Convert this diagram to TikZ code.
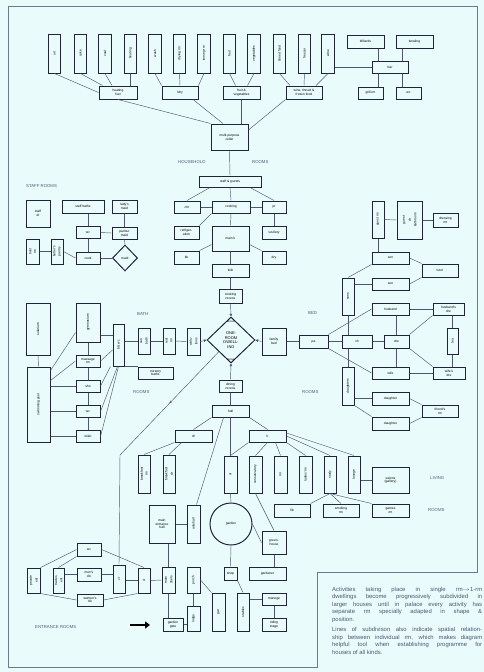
\documentclass[tikz,border=0pt]{standalone}
\usepackage{fontspec}
\setmainfont{Liberation Sans}
\usepackage{graphicx}
\definecolor{paper}{RGB}{234,251,252}
\definecolor{ink}{RGB}{34,36,58}
\definecolor{wire}{RGB}{78,86,112}
\usetikzlibrary{arrows.meta,shapes.geometric,decorations.markings}

\begin{document}
\begin{tikzpicture}[x=1pt, y=-1pt,
  rm/.style={draw=ink, line width=1pt, fill=paper, inner sep=0.3pt, align=center,
    font=\fontsize{3.3}{3.7}\selectfont},
  tall/.style={rm, minimum width=12.5pt, minimum height=39pt},
  link/.style={draw=wire, line width=0.45pt},
  tip/.style={-{Triangle[length=2.6pt,width=2.6pt]}},
  zone/.style={anchor=west, inner sep=0, text=wire, font=\fontsize{4.3}{5}\selectfont}]

\fill[paper] (0,0) rectangle (484,672);
\useasboundingbox (0,0) rectangle (484,672);
\draw[wire!80, line width=0.6pt] (8,6) -- (477,6) -- (477,572) -- (317,572) -- (317,667) -- (8,667) -- cycle;

% household rooms
\node[tall] (oil)   at (54.5,53.5)  {\rotatebox{90}{oil}};
\node[tall] (coke)  at (80.5,53.5)  {\rotatebox{90}{coke}};
\node[tall] (coal)  at (105,53.5)   {\rotatebox{90}{coal}};
\node[tall] (heat)  at (130.5,53.5) {\rotatebox{90}{heating}};
\node[tall] (wash)  at (155,53.5)   {\rotatebox{90}{wash}};
\node[tall] (dryrm) at (179.5,53.5) {\rotatebox{90}{drying rm}};
\node[tall] (iron)  at (204,53.5)   {\rotatebox{90}{ironing rm}};
\node[tall] (fruit) at (229.5,53.5) {\rotatebox{90}{fruit}};
\node[tall] (veg)   at (254,53.5)   {\rotatebox{90}{vegetables}};
\node[tall] (tins)  at (279.5,53.5) {\rotatebox{90}{tinned food}};
\node[tall] (frz)   at (304.5,53.5) {\rotatebox{90}{freezer}};
\node[tall] (wine)  at (328,53.5)   {\rotatebox{90}{wine}};

\node[rm, minimum width=38pt, minimum height=13pt] (fuel)  at (118,92.5)   {heating\\fuel};
\node[rm, minimum width=36pt, minimum height=13pt] (ldry)  at (180,92.5)   {ldry};
\node[rm, minimum width=37pt, minimum height=13pt] (fandv) at (241.5,92.5) {fruit \&\\vegetables};
\node[rm, minimum width=36pt, minimum height=13pt] (wtf)   at (304,92.5)   {wine, tinned \&\\frozen food};
\node[rm, minimum width=37pt, minimum height=26pt] (cellar) at (229.5,137) {multi-purpose\\cellar};

\node[rm, minimum width=37pt, minimum height=13pt] (bill)  at (365.5,41.5) {billiards};
\node[rm, minimum width=37pt, minimum height=13pt] (bowl)  at (414.5,41.5) {bowling};
\node[rm, minimum width=36pt, minimum height=12pt] (bar)   at (390,67)     {bar};
\node[rm, minimum width=25pt, minimum height=12pt] (grill) at (370.5,93)   {grill rm};
\node[rm, minimum width=25pt, minimum height=12pt] (barwc) at (408.5,93)   {wc};

\node[zone] (hh)  at (178,162) {HOUSEHOLD};
\node[zone] (hhr) at (252,162) {ROOMS};

% staff rooms
\node[zone] (staffz) at (26,186) {STAFF ROOMS};
\node[rm, minimum width=24pt, minimum height=27pt] (stdr)  at (38,213.5)  {staff\\dr};
\node[rm, minimum width=42pt, minimum height=13pt] (sbath) at (83,206.5)  {staff baths};
\node[rm, minimum width=25pt, minimum height=13pt] (lmaid) at (124.5,206.5) {lady's\\maid};
\node[rm, minimum width=24pt, minimum height=12pt] (swc)   at (88,232.5)  {wc};
\node[rm, minimum width=25pt, minimum height=12pt] (pmaid) at (124.5,233) {parlour\\maid};
\node[rm, minimum width=13pt, minimum height=25pt] (boot)  at (32.5,251.5) {\rotatebox{90}{\shortstack{boot\\rm}}};
\node[rm, minimum width=12pt, minimum height=25pt] (butl)  at (57,251.5)  {\rotatebox{90}{\shortstack{butler's\\pantry}}};
\node[rm, minimum width=24pt, minimum height=12pt] (cook)  at (88,258)    {cook};
\node[rm, diamond, minimum width=25pt, minimum height=26pt, inner sep=0] (maid) at (125,258) {maid};

% bath rooms
\node[zone] (bathz) at (137,314) {BATH};
\node[rm, minimum width=24pt, minimum height=52pt] (sol)   at (38,329)    {\rotatebox{90}{solarium}};
\node[rm, minimum width=24pt, minimum height=39pt] (gym)   at (88,322.5)  {\rotatebox{90}{gymnasium}};
\node[rm, minimum width=24pt, minimum height=12pt] (mass)  at (88,361)    {massage\\rm};
\node[rm, minimum width=24pt, minimum height=12pt] (sho)   at (88,386)    {sho};
\node[rm, minimum width=24pt, minimum height=12pt] (bwcb)  at (88,411.5)  {wc};
\node[rm, minimum width=24pt, minimum height=12pt] (toil)  at (88,436.5)  {toilet};
\node[rm, minimum width=23pt, minimum height=75pt] (pool)  at (38.5,404.5) {\rotatebox{90}{swimming pool}};
\node[rm, minimum width=11pt, minimum height=42pt] (bwc)   at (118.5,345) {\rotatebox{90}{b \& wc}};
\node[rm, minimum width=12pt, minimum height=26pt] (suba)  at (144,341)   {\rotatebox{90}{\shortstack{sun\\bath}}};
\node[rm, minimum width=12pt, minimum height=26pt] (rest)  at (169,341)   {\rotatebox{90}{\shortstack{rest\\rm}}};
\node[rm, minimum width=13pt, minimum height=27pt] (ablu)  at (193.5,341.5) {\rotatebox{90}{\shortstack{ablu-\\tions}}};
\node[rm, minimum width=35pt, minimum height=12pt] (nurs)  at (155.5,373) {nursery\\baths};
\node[zone] (bathr) at (133,392) {ROOMS};

% kitchen
\node[rm, minimum width=62pt, minimum height=11pt] (sg)    at (230,181.5) {staff \& guests};
\node[rm, minimum width=26pt, minimum height=12pt] (chr)   at (187,207)   {chr};
\node[rm, minimum width=38pt, minimum height=12pt] (cooking) at (231,207) {cooking};
\node[rm, minimum width=24pt, minimum height=12pt] (pr)    at (274,207)   {pr};
\node[rm, minimum width=25pt, minimum height=13pt] (refr)  at (186.5,232.5) {refriger-\\ation};
\node[rm, minimum width=37pt, minimum height=25pt] (maink) at (230.5,238.5) {main k};
\node[rm, minimum width=24pt, minimum height=13pt] (scul)  at (274,232.5) {scullery};
\node[rm, minimum width=25pt, minimum height=13pt] (bk)    at (186.5,257.5) {bk};
\node[rm, minimum width=24pt, minimum height=13pt] (dry)   at (274,257.5) {dry};
\node[rm, minimum width=37pt, minimum height=13pt] (kdr)   at (230.5,270.5) {k/dr};
\node[rm, minimum width=23pt, minimum height=14pt] (crec)  at (230.5,296)  {cooking\\recess};

% one room dwelling
\node[diamond, draw=ink, line width=1pt, fill=paper, minimum width=48pt, minimum height=46pt,
  inner sep=0, align=center, font=\fontsize{4}{4.6}\selectfont] (one) at (231,340) {ONE-\\ROOM\\DWELL-\\ING};
\node[font=\fontsize{2.8}{3}\selectfont, inner sep=0] (alca) at (231,321) {alcove};
\node[font=\fontsize{2.8}{3}\selectfont, inner sep=0] (alcb) at (231,359) {alcove};

% bed rooms
\node[zone] (bedz) at (308,313) {BED};
\node[rm, minimum width=24pt, minimum height=27pt] (fbed)  at (274,341.5) {family\\bed};
\node[rm, minimum width=29pt, minimum height=13pt] (pa)    at (313.5,341.5) {pa};
\node[rm, minimum width=12pt, minimum height=37pt] (guest) at (378,219.5) {\rotatebox{90}{guest rm}};
\node[rm, minimum width=25pt, minimum height=38pt] (gdr)   at (409.5,220) {\rotatebox{90}{\shortstack{guest\\dr\\bathroom}}};
\node[rm, minimum width=25pt, minimum height=14pt] (dress) at (445.5,220) {dressing\\rm};
\node[rm, minimum width=37pt, minimum height=12pt] (sona)  at (390.5,258) {son};
\node[rm, minimum width=36pt, minimum height=13pt] (tutor) at (440,270.5) {tutor};
\node[rm, minimum width=37pt, minimum height=12pt] (sonb)  at (390.5,284) {son};
\node[rm, minimum width=12pt, minimum height=37pt] (sons)  at (348,296.5) {\rotatebox{90}{sons}};
\node[rm, minimum width=37pt, minimum height=12pt] (husb)  at (390.5,309) {husband};
\node[rm, minimum width=31pt, minimum height=12pt] (hdre)  at (448.5,309) {husband's\\dre};
\node[rm, minimum width=30pt, minimum height=13pt] (ch)    at (357,341.5) {ch};
\node[rm, minimum width=25pt, minimum height=13pt] (dre)   at (396.5,341.5) {dre};
\node[rm, minimum width=11pt, minimum height=26pt] (tea)   at (452.5,341) {\rotatebox{90}{tea}};
\node[rm, minimum width=37pt, minimum height=12pt] (wife)  at (390.5,373) {wife};
\node[rm, minimum width=32pt, minimum height=12pt] (wdre)  at (449,373)   {wife's\\dre};
\node[rm, minimum width=12pt, minimum height=38pt] (dtrs)  at (348,386)   {\rotatebox{90}{daughters}};
\node[rm, minimum width=37pt, minimum height=13pt] (dtra)  at (390.5,398.5) {daughter};
\node[rm, minimum width=36pt, minimum height=12pt] (frnd)  at (440,411)   {friend's\\rm};
\node[rm, minimum width=37pt, minimum height=13pt] (dtrb)  at (390.5,423.5) {daughter};
\node[zone] (bedr) at (302,392) {ROOMS};

% living rooms
\node[rm, minimum width=23pt, minimum height=12pt] (dine)  at (230.5,386) {dining\\recess};
\node[rm, minimum width=37pt, minimum height=12pt] (hall)  at (230.5,411) {hall};
\node[rm, minimum width=37pt, minimum height=12pt] (dr)    at (193.5,436) {dr};
\node[rm, minimum width=37pt, minimum height=12pt] (lr)    at (267.5,436) {lr};
\node[rm, minimum width=12pt, minimum height=38pt] (bfst)  at (144,474)   {\rotatebox{90}{\shortstack{breakfast\\rm}}};
\node[rm, minimum width=12pt, minimum height=38pt] (serv)  at (169,474)   {\rotatebox{90}{\shortstack{breakfast\\dr}}};
\node[rm, minimum width=13pt, minimum height=37pt] (sr)    at (230.5,474.5) {\rotatebox{90}{sr}};
\node[rm, minimum width=13pt, minimum height=37pt] (cons)  at (255.5,474.5) {\rotatebox{90}{conservatory}};
\node[rm, minimum width=13pt, minimum height=37pt] (mr)    at (280.5,474.5) {\rotatebox{90}{mr}};
\node[rm, minimum width=13pt, minimum height=37pt] (ladies) at (305.5,474.5) {\rotatebox{90}{ladies' rm}};
\node[rm, minimum width=12pt, minimum height=37pt] (study) at (330,474.5)  {\rotatebox{90}{study}};
\node[rm, minimum width=12pt, minimum height=37pt] (lnge)  at (354,474.5)  {\rotatebox{90}{lounge}};
\node[rm, minimum width=37pt, minimum height=26pt] (salon) at (390.5,480)  {salons\\(gallery)};
\node[rm, minimum width=36pt, minimum height=13pt] (lib)   at (292,510.5)  {lib};
\node[rm, minimum width=36pt, minimum height=13pt] (smok)  at (341,510.5)  {smoking\\rm};
\node[rm, minimum width=37pt, minimum height=13pt] (games) at (390.5,510.5) {games\\rm};
\node[zone] (livz) at (430,478) {LIVING};
\node[zone] (livr) at (428,510) {ROOMS};

% garden
\node[circle, draw=ink, line width=1pt, fill=paper, minimum size=42pt, inner sep=0,
  font=\fontsize{3.3}{3.7}\selectfont] (gard) at (231,524) {garden};
\node[rm, minimum width=24pt, minimum height=23pt] (green) at (274,542.5) {green-\\house};
\node[rm, minimum width=37pt, minimum height=13pt] (gdnr)  at (267.5,573.5) {gardener};
\node[rm, minimum width=13pt, minimum height=13pt] (shop)  at (230.5,573.5) {shop};
\node[rm, minimum width=13pt, minimum height=38pt] (gar)   at (218.5,612)  {\rotatebox{90}{gar}};
\node[rm, minimum width=12pt, minimum height=38pt] (stab)  at (243,612)    {\rotatebox{90}{stables}};
\node[rm, minimum width=24pt, minimum height=12pt] (maneg) at (274,599)    {manege};
\node[rm, minimum width=24pt, minimum height=13pt] (ride)  at (274,624.5)  {riding\\stage};

% entrance rooms
\node[rm, minimum width=26pt, minimum height=38pt] (meh)   at (162,524)   {main\\entrance\\hall};
\node[rm, minimum width=13pt, minimum height=38pt] (ante)  at (193.5,524) {\rotatebox{90}{antehall}};
\node[rm, minimum width=13pt, minimum height=26pt] (stair) at (168.5,580) {\rotatebox{90}{\shortstack{main\\stairs}}};
\node[rm, minimum width=13pt, minimum height=26pt] (porch) at (193.5,580) {\rotatebox{90}{porch}};
\node[rm, minimum width=13pt, minimum height=25pt] (lodge) at (193.5,618.5) {\rotatebox{90}{lodge}};
\node[rm, minimum width=20pt, minimum height=13pt] (ggate) at (173,624.5) {garden\\gate};
\node[rm, minimum width=24pt, minimum height=13pt] (ewc)   at (89,549.5)  {wc};
\node[rm, minimum width=13pt, minimum height=25pt] (pent)  at (33.5,580.5) {\rotatebox{90}{\shortstack{private\\ent}}};
\node[rm, minimum width=11pt, minimum height=25pt] (tent)  at (58.5,580.5) {\rotatebox{90}{\shortstack{trades\\ent}}};
\node[rm, minimum width=24pt, minimum height=13pt] (mens)  at (89,574.5)  {men's\\clk};
\node[rm, minimum width=26pt, minimum height=12pt] (womn)  at (90,600)    {women's\\clk};
\node[rm, minimum width=12pt, minimum height=28pt] (clka)  at (119,579)   {\rotatebox{90}{cl}};
\node[rm, minimum width=12pt, minimum height=25pt] (clkb)  at (144,580.5) {\rotatebox{90}{cl}};
\node[zone] (entz) at (35,627) {ENTRANCE ROOMS};
\coordinate (arra) at (130,625);
\coordinate (arrb) at (150,625);
\draw[line width=2.6pt, -{Triangle[length=5pt,width=7pt]}] (arra) -- (arrb);

% note
\node[anchor=north west, inner sep=0, text width=150pt, align=justify, text=wire,
  font=\fontsize{5.9}{7.5}\selectfont] (note) at (332,587) {Activities taking place in single rm$\rightarrow$1-rm\linebreak
  dwellings become progressively subdivided in\linebreak larger houses until in palace every activity has\linebreak
  separate rm specially adapted in shape \&\linebreak position.\par\vspace{3pt}
  Lines of subdivison also indicate spatial relation-\linebreak ship between individual rm, which makes diagram\linebreak
  helpful tool when establishing programme for\linebreak houses of all kinds.};

% connectors: household
\draw[link] (oil.south) -- (fuel.west);
\draw[link] (coke.south) -- ([xshift=4pt]fuel.north west);
\draw[link] (coal.south) -- ([xshift=-6pt]fuel.north);
\draw[link] (heat.south) -- (heat.south |- fuel.north);
\draw[link] (wash.south) -- (ldry.north west);
\draw[link] (dryrm.south) -- (ldry.north);
\draw[link] (iron.south) -- (ldry.north east);
\draw[link] (fruit.south) -- ([xshift=-6pt]fandv.north);
\draw[link] (veg.south) -- ([xshift=6pt]fandv.north);
\draw[link] (tins.south) -- ([xshift=-14pt]wtf.north);
\draw[link] (frz.south) -- (wtf.north);
\draw[link] (wine.south) -- ([xshift=12pt]wtf.north);
\draw[link] ([yshift=-13.5pt]wine.east) -- (bar.west);
\draw[link] ([xshift=12.5pt]bill.south) -- ([xshift=-12pt]bar.north);
\draw[link] ([xshift=-12.5pt]bowl.south) -- ([xshift=12pt]bar.north);
\draw[link] ([xshift=-12pt]bar.south) -- ([xshift=7.5pt]grill.north);
\draw[link] ([xshift=12pt]bar.south) -- ([xshift=-6.5pt]barwc.north);
\draw[link] (fuel.south) -- (cellar.north west);
\draw[link] ([xshift=13pt]ldry.south) -- ([xshift=-6.5pt]cellar.north);
\draw[link] (fandv.south) -- (fandv.south |- cellar.north);
\draw[link] (wtf.south west) -- ([yshift=7pt]cellar.east);
\draw[link] (cellar.south) -- (sg.north);

% connectors: staff
\draw[link] ([xshift=5pt]sbath.south) -- (swc.north);
\draw[link] (swc.south) -- (cook.north);
\draw[link] (swc.east) -- (pmaid.west);
\draw[link] (lmaid.south) -- (pmaid.north);
\draw[link] (pmaid.south) -- (maid.north);
\draw[link] (cook.east) -- (maid.west);
\draw[link] (boot.east) -- (butl.west);
\draw[link] (butl.east) -- (cook.west);

% connectors: bath
\draw[link] (sol.south) -- (pool.north);
\draw[link] (gym.south) -- (mass.north);
\draw[link] (mass.south) -- (sho.north);
\draw[link] (sho.south) -- (bwcb.north);
\draw[link] (bwcb.south) -- (toil.north);
\draw[link] ([yshift=-4pt]pool.north east) -- ([yshift=-10pt]gym.west);
\draw[link] ([yshift=-14pt]pool.north east) -- (mass.west);
\draw[link] (pool.east |- sho.west) -- (sho.west);
\draw[link] (pool.east |- bwcb.west) -- (bwcb.west);
\draw[link] (pool.east |- toil.west) -- (toil.west);
\draw[link] ([yshift=-12.5pt]gym.east) -- ([yshift=10pt]bwc.west);
\draw[link] (mass.east) -- ([yshift=-5pt]bwc.west);
\draw[link] (sho.east) -- ([xshift=-2pt]bwc.south west);
\draw[link] (bwcb.east) -- ([xshift=-1pt]bwc.south);
\draw[link] (toil.east) -- (bwc.south);
\draw[link] (bwc.east |- suba.west) -- (suba.west);
\draw[link] (suba.east) -- (rest.west);
\draw[link] (rest.east) -- (ablu.west);
\draw[link] (bwc.south east) -- (nurs.north west);

% connectors: kitchen
\draw[link] ([xshift=-20pt]sg.south) -- (chr.north);
\draw[link] (sg.south) -- (cooking.north);
\draw[link] ([xshift=20pt]sg.south) -- (pr.north);
\draw[link] (chr.east) -- (cooking.west);
\draw[link] (cooking.east) -- (pr.west);
\draw[link] (cooking.south) -- (maink.north);
\draw[link] (cooking.south west) -- (refr.north east);
\draw[link] (pr.south) -- (scul.north);
\draw[link] ([yshift=-6pt]maink.west) -- (bk.north east);
\draw[link] ([yshift=-6pt]maink.east) -- (dry.north west);
\draw[link] (maink.south) -- (kdr.north);
\draw[link] (kdr.south) -- (crec.north);

% connectors: one room dwelling
\draw[link, tip] (crec.south) -- (one.north);
\draw[link, tip] (ablu.east) -- (one.west);
\draw[link, tip] (fbed.west) -- (one.east);
\draw[link, tip] (dine.north) -- (one.south);
\coordinate (bend) at (120,455);
\draw[link, decoration={markings, mark=at position 0.5 with {\arrow{Stealth[length=3pt]}}}, postaction=decorate]
  (one.south west) -- (bend);
\draw[link] (bend) -- (clka.north);

% connectors: bed
\draw[link] (fbed.east) -- (pa.west);
\draw[link] (pa.east) -- (ch.west);
\draw[link] (pa.north east) -- (husb.west);
\draw[link] (pa.south east) -- (wife.west);
\draw[link] (guest.east) -- (gdr.west);
\draw[link] (gdr.east) -- (dress.west);
\draw[link] (guest.south) -- (guest.south |- sona.north);
\draw[link] (sona.east) -- (tutor.north west);
\draw[link] (sonb.east) -- (tutor.south west);
\draw[link] (sons.north) -- (sona.south west);
\draw[link] (sons.east |- sonb.west) -- (sonb.west);
\draw[link] (sons.south) -- (sons.south |- ch.north);
\draw[link] (ch.south -| dtrs.north) -- (dtrs.north);
\draw[link] (ch.east) -- (dre.west);
\draw[link] (husb.east) -- (hdre.west);
\draw[link] (husb.south -| dre.north) -- (dre.north);
\draw[link] (hdre.south west) -- (dre.north east);
\draw[link] (hdre.south -| tea.north) -- (tea.north);
\draw[link] (tea.south) -- (tea.south |- wdre.north);
\draw[link] (dre.south) -- (dre.south |- wife.north);
\draw[link] (dre.south east) -- (wdre.north west);
\draw[link] (wife.east) -- (wdre.west);
\draw[link] (dtrs.east |- dtra.west) -- (dtra.west);
\draw[link] (dtrs.south east) -- (dtrb.north west);
\draw[link] (dtra.east) -- (frnd.north west);
\draw[link] (dtrb.east) -- (frnd.south west);

% connectors: living
\draw[link] (dine.south) -- (hall.north);
\draw[link] (hall.south west) -- (dr.north);
\draw[link] (hall.south east) -- (lr.north);
\draw[link] (hall.south) -- (sr.north);
\draw[link] ([xshift=-7pt]hall.south) -- ([xshift=3pt]ante.north);
\draw[link] (dr.south west) -- (bfst.north);
\draw[link] ([xshift=-12pt]dr.south) -- (serv.north);
\draw[link] (lr.south west) -- (sr.north);
\draw[link] (lr.south) -- (cons.north);
\draw[link] ([xshift=8pt]lr.south) -- (mr.north);
\draw[link] (lr.south east) -- (ladies.north);
\draw[link] (lr.east) -- (study.north);
\draw[link] ([yshift=3pt]lr.east) -- (lnge.north);
\draw[link] (lnge.east |- salon.west) -- (salon.west);
\draw[link] (study.south) -- (lib.north east);
\draw[link] (study.south) -- (smok.north);
\draw[link] (study.south) -- (games.north west);
\draw[link] (sr.south) -- (gard.north);
\draw[link] (cons.south) -- (green.north);
\draw[link] (gard.east) -- (green.west);
\draw[link] (green.south) -- (green.south |- gdnr.north);
\draw[link] (gard.south) -- (shop.north);
\draw[link] (shop.south east) -- (stab.north);
\draw[link] (stab.east |- maneg.west) -- (maneg.west);
\draw[link] (maneg.south) -- (ride.north);

% connectors: entrance
\draw[link] (meh.east) -- (ante.west);
\draw[link] (meh.south -| stair.north) -- (stair.north);
\draw[link] (stair.south) -- (stair.south |- ggate.north);
\draw[link] (porch.south) -- (lodge.north);
\draw[link] (porch.east) -- (gar.north west);
\draw[link] (lodge.west |- ggate.east) -- (ggate.east);
\draw[link] (pent.north east) -- (ewc.west);
\draw[link] (pent.south east) -- (womn.west);
\draw[link] (tent.north) -- (ewc.south west);
\draw[link] (tent.east |- mens.west) -- (mens.west);
\draw[link] (mens.east) -- (mens.east -| clka.west);
\draw[link] (ewc.east) -- (clkb.north);
\draw[link] (womn.east) -- (clkb.south west);
\draw[link] (clka.east |- clkb.west) -- (clkb.west);
\draw[link] (clkb.east) -- (stair.west);

\end{tikzpicture}
\end{document}
